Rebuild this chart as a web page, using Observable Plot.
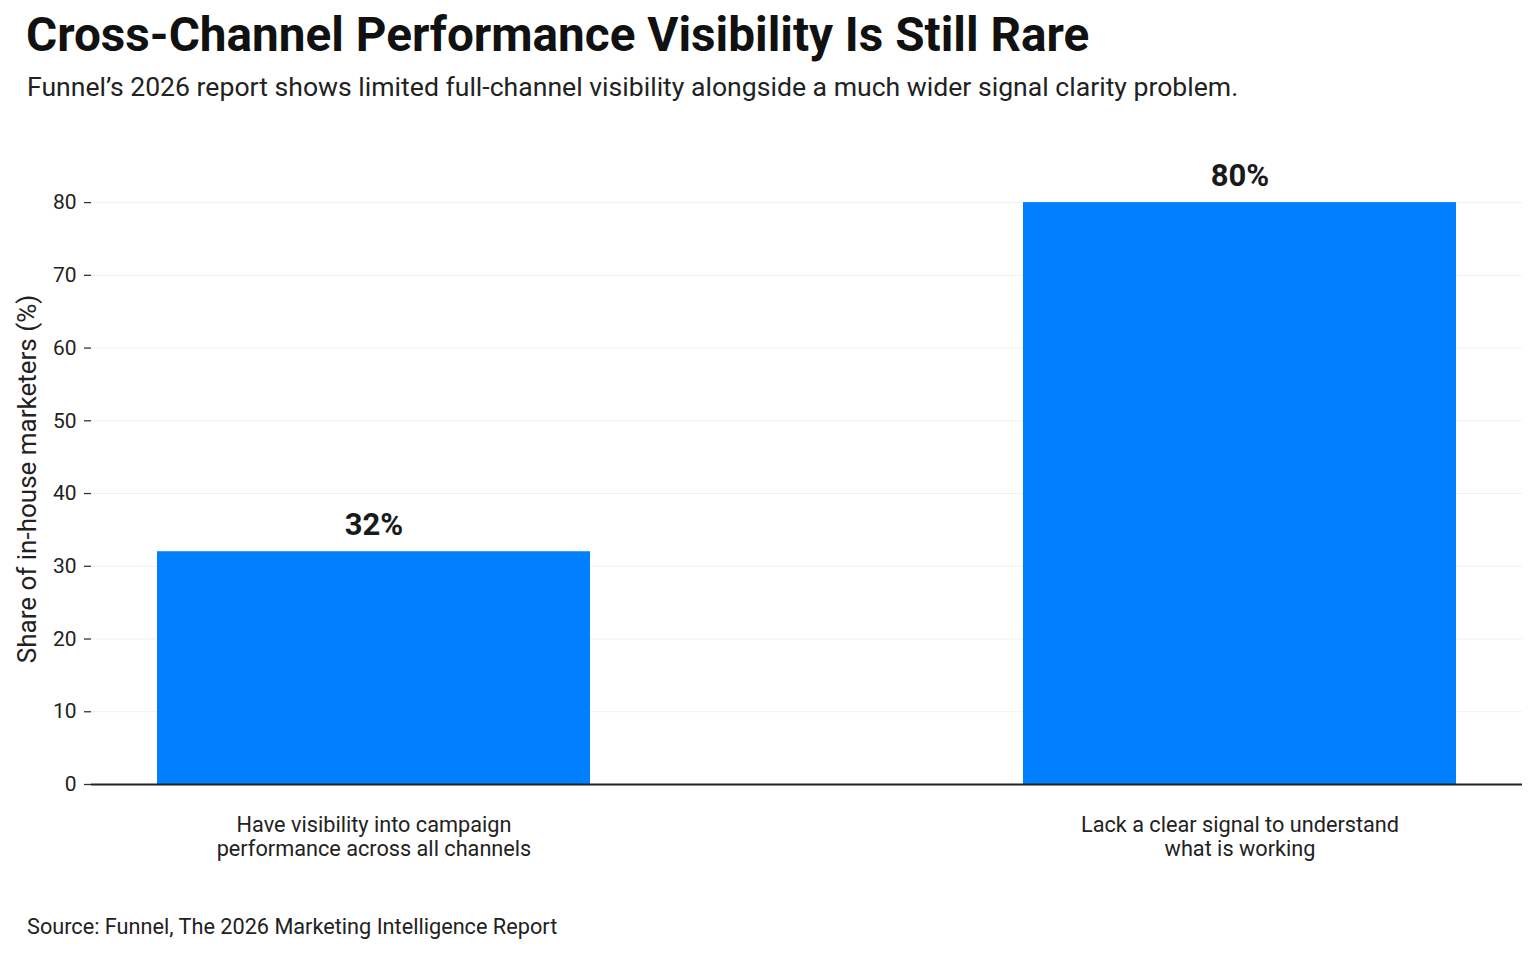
<!DOCTYPE html>
<html>
<head>
<meta charset="utf-8">
<script src="https://cdn.jsdelivr.net/npm/d3@7"></script>
<script src="https://cdn.jsdelivr.net/npm/@observablehq/plot@0.6"></script>
<style>
  html, body { margin: 0; padding: 0; background: #fff; }
  body { width: 1536px; height: 955px; overflow: hidden; font-family: Roboto, "Noto Sans", sans-serif; }
  #title { font-weight: 700; font-size: 47.7px; line-height: 70px; height: 70px; padding-left: 26px; color: #111; white-space: nowrap; }
  #subtitle { font-size: 26.6px; line-height: 34px; height: 34px; padding-left: 27px; color: #222; white-space: nowrap; }
  #chart { height: 776px; }
  #chart svg { display: block; }
  #source { font-size: 21.7px; line-height: 24px; padding-left: 27px; margin-top: 35px; color: #222; white-space: nowrap; }
</style>
</head>
<body>
<div id="title">Cross-Channel Performance Visibility Is Still Rare</div>
<div id="subtitle">Funnel’s 2026 report shows limited full-channel visibility alongside a much wider signal clarity problem.</div>
<div id="chart"></div>
<div id="source">Source: Funnel, The 2026 Marketing Intelligence Report</div>
<script>
const categories = [
  "Have visibility into campaign\nperformance across all channels",
  "Lack a clear signal to understand\nwhat is working"
];
const shares = [32, 80];
const valueLabels = ["32%", "80%"];
const yTicks = [0, 10, 20, 30, 40, 50, 60, 70, 80];
const yLabel = "Share of in-house marketers (%)";

const data = categories.map((c, i) => ({category: c, share: shares[i], label: valueLabels[i]}));

const chart = Plot.plot({
  width: 1536,
  height: 776,
  marginTop: 69,
  marginBottom: 96,
  marginLeft: 91,
  marginRight: 14,
  style: {fontFamily: "Roboto, 'Noto Sans', sans-serif", fontSize: "21px", color: "#222", background: "#fff"},
  x: {domain: categories, paddingInner: 0.5, paddingOuter: 0.076, label: null},
  y: {domain: [0, 84], label: null},
  marks: [
    Plot.gridY(yTicks, {stroke: "#000", strokeOpacity: 0.06, strokeWidth: 1}),
    Plot.barY(data, {x: "category", y: "share", fill: "#0080FF"}),
    Plot.ruleY([0], {stroke: "#222", strokeWidth: 2}),
    Plot.axisY({ticks: yTicks, tickSize: 7, tickPadding: 8, stroke: "#333", strokeWidth: 1.3, label: null, fontSize: 21}),
    Plot.axisX({tickSize: 0, tickPadding: 31, label: null, fontSize: 21.7, lineHeight: 1.1}),
    Plot.text(data, {x: "category", y: "share", text: "label", dy: -27, lineAnchor: "middle", fontSize: 31, fontWeight: 700, fill: "#1a1a1a"}),
    Plot.text([yLabel], {text: d => d, frameAnchor: "left", dx: -64, rotate: -90, textAnchor: "middle", lineAnchor: "middle", fontSize: 26, fill: "#222"})
  ]
});
document.getElementById("chart").appendChild(chart);
</script>
</body>
</html>
